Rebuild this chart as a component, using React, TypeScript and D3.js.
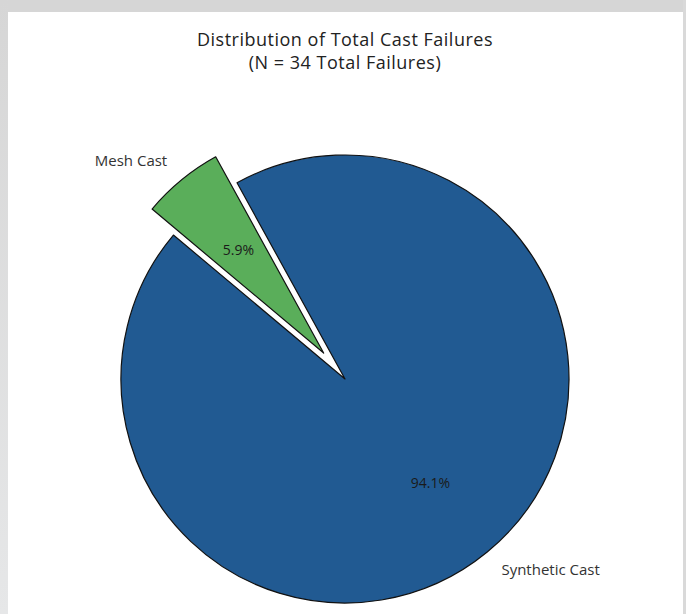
import React from "react";
import * as d3 from "d3";

const categories = ["Synthetic Cast", "Mesh Cast"];
const counts = [32, 2];
const colors = ["#215a92", "#5aae5a"];
const explode = [0, 0.15];
const titleLines = ["Distribution of Total Cast Failures", "(N = 34 Total Failures)"];

const W = 686;
const H = 614;
const cx = 345;
const cy = 379;
const R = 224;
const startDeg = 140; // matplotlib-style start angle, counterclockwise
const FONT = "'Open Sans', Roboto, sans-serif";

export default function App() {
  const total = d3.sum(counts);
  const pie = d3
    .pie<number>()
    .sort(null)
    .value((d) => d)
    .startAngle(((90 - startDeg) * Math.PI) / 180)
    .endAngle(((90 - startDeg - 360) * Math.PI) / 180);
  const arcs = pie(counts);
  const arcGen = d3.arc<d3.PieArcDatum<number>>().innerRadius(0).outerRadius(R);

  return (
    <svg
      width={W}
      height={H}
      style={{ position: "absolute", left: 0, top: 0, background: "#fff" }}
    >
      <defs>
        <linearGradient id="lg" x1="0" y1="0" x2="0" y2="1">
          <stop offset="0" stopColor="#d6d6d6" />
          <stop offset="1" stopColor="#e6e7e8" />
        </linearGradient>
      </defs>
      <rect x={0} y={0} width={W} height={H} fill="#fff" />
      <rect x={0} y={0} width={W} height={12} fill="#d6d6d6" />
      <rect x={0} y={0} width={8} height={H} fill="url(#lg)" />
      <rect x={683} y={0} width={3} height={H} fill="#d9d9d9" />
      <g fontFamily={FONT} textAnchor="middle" fill="#222">
        {titleLines.map((t, i) => (
          <text key={i} x={cx} y={46 + i * 23} fontSize={18} letterSpacing={0.5}>
            {t}
          </text>
        ))}
      </g>
      {arcs.map((a, i) => {
        const mid = (a.startAngle + a.endAngle) / 2;
        const dx = Math.sin(mid);
        const dy = -Math.cos(mid);
        const off = explode[i] * R;
        const ox = cx + dx * off;
        const oy = cy + dy * off;
        const lx = ox + dx * R * 1.1;
        const ly = oy + dy * R * 1.1;
        const px = ox + dx * R * 0.6;
        const py = oy + dy * R * 0.6;
        const pct = ((counts[i] / total) * 100).toFixed(1) + "%";
        return (
          <g key={categories[i]}>
            <path
              d={arcGen(a) || ""}
              transform={`translate(${ox},${oy})`}
              fill={colors[i]}
              stroke="#111"
              strokeWidth={1.2}
              strokeLinejoin="round"
            />
            <text
              x={lx}
              y={ly - (dy < 0 ? 3 : 0)}
              fontFamily={FONT}
              fontSize={15}
              fill="#333"
              textAnchor={dx < 0 ? "end" : "start"}
              dominantBaseline="central"
            >
              {categories[i]}
            </text>
            <text
              x={px}
              y={py}
              fontFamily={FONT}
              fontSize={14}
              fill="#1a1a1a"
              textAnchor="middle"
              dominantBaseline="central"
            >
              {pct}
            </text>
          </g>
        );
      })}
    </svg>
  );
}
